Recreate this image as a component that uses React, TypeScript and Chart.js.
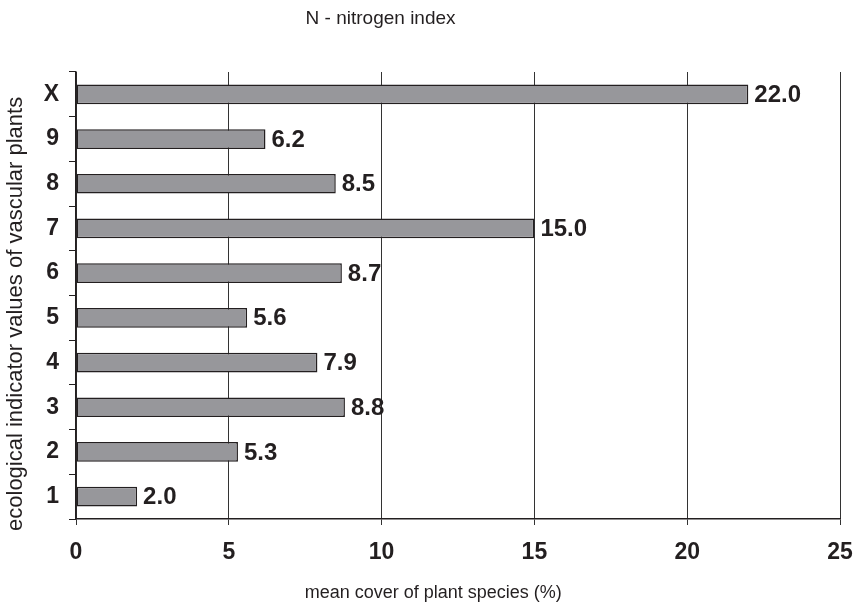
import React, { useEffect, useRef } from "react";
import { Chart, registerables } from "chart.js";

Chart.register(...registerables);

const categories = ["X", "9", "8", "7", "6", "5", "4", "3", "2", "1"];
const meanCover = [22.0, 6.2, 8.5, 15.0, 8.7, 5.6, 7.9, 8.8, 5.3, 2.0];
const xTicks = [0, 5, 10, 15, 20, 25];

const chartTitle = "N - nitrogen index";
const xTitle = "mean cover of plant species (%)";
const yTitle = "ecological indicator values of vascular plants";

const FONT = '"Liberation Sans", Arial, Helvetica, sans-serif';
const INK = "#231f20";

const valueLabels = {
  id: "valueLabels",
  afterDatasetsDraw(chart: any) {
    const ctx = chart.ctx;
    const meta = chart.getDatasetMeta(0);
    ctx.save();
    ctx.font = `bold 24px ${FONT}`;
    ctx.fillStyle = INK;
    ctx.textAlign = "left";
    ctx.textBaseline = "middle";
    meta.data.forEach((bar: any, i: number) => {
      ctx.fillText(meanCover[i].toFixed(1), bar.x + 6, bar.y + 1);
    });
    ctx.restore();
  },
};

const titles = {
  id: "titles",
  afterDraw(chart: any) {
    const ctx = chart.ctx;
    const w = chart.width;
    const h = chart.height;
    ctx.save();
    ctx.fillStyle = INK;
    ctx.textAlign = "left";
    ctx.textBaseline = "alphabetic";
    ctx.font = `19px ${FONT}`;
    ctx.fillText(chartTitle, w * 0.357, 24);
    ctx.font = `18px ${FONT}`;
    ctx.fillText(xTitle, w * 0.356, h - 8);
    ctx.translate(22, h * 0.518);
    ctx.rotate(-Math.PI / 2);
    ctx.textAlign = "center";
    ctx.font = `22px ${FONT}`;
    ctx.fillText(yTitle, 0, 0);
    ctx.restore();
  },
};

export default function App() {
  const ref = useRef<HTMLCanvasElement | null>(null);

  useEffect(() => {
    document.body.style.margin = "0";
    const canvas = ref.current!;
    const chart = new Chart(canvas, {
      type: "bar",
      data: {
        labels: categories,
        datasets: [
          {
            data: meanCover,
            backgroundColor: "#97979b",
            borderColor: INK,
            borderWidth: 1.5,
            borderSkipped: false,
            categoryPercentage: 1,
            barPercentage: 0.44,
          },
        ],
      },
      options: {
        indexAxis: "y",
        responsive: false,
        animation: false,
        layout: { padding: { top: 72, right: 16, left: 0, bottom: 0 } },
        plugins: {
          legend: { display: false },
          title: { display: false },
          tooltip: { enabled: false },
        },
        scales: {
          x: {
            type: "linear",
            min: 0,
            max: 25,
            afterBuildTicks: (s: any) => {
              s.ticks = xTicks.map((v) => ({ value: v }));
            },
            afterFit: (s: any) => {
              s.height = 87;
              s.paddingLeft = 0;
              s.paddingRight = 0;
            },
            grid: {
              display: true,
              drawOnChartArea: true,
              drawTicks: true,
              tickLength: 6,
              color: "#333",
              lineWidth: 1,
            },
            border: { display: true, color: INK, width: 1.5 },
            ticks: {
              padding: 14,
              color: INK,
              font: { family: FONT, size: 23, weight: "bold" },
              maxRotation: 0,
            },
          },
          y: {
            type: "category",
            offset: true,
            afterFit: (s: any) => {
              s.width = 76;
              s.paddingTop = 0;
              s.paddingBottom = 0;
            },
            grid: {
              display: true,
              offset: true,
              drawOnChartArea: false,
              drawTicks: true,
              tickLength: 7,
              color: INK,
              lineWidth: 1,
            },
            border: { display: true, color: INK, width: 1.5 },
            ticks: {
              padding: 10,
              color: INK,
              font: { family: FONT, size: 23, weight: "bold" },
            },
          },
        },
      },
      plugins: [valueLabels, titles],
    } as any);
    return () => chart.destroy();
  }, []);

  return (
    <div style={{ width: 856, height: 606 }}>
      <canvas ref={ref} width={856} height={606} />
    </div>
  );
}
